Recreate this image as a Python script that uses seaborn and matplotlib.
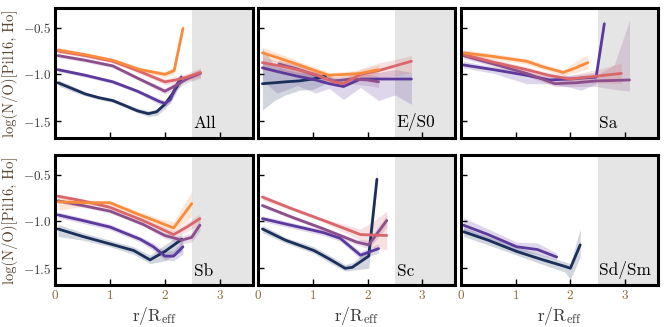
import matplotlib
matplotlib.use("Agg")
import matplotlib.pyplot as plt
import pandas as pd
import seaborn as sns

# colour per mass bin, low -> high
NAVY = "#1b2f5b"
PURPLE = "#5b3a9c"
MAUVE = "#8d4f8c"
CORAL = "#d9666b"
ORANGE = "#fb8b3c"

PANEL_NAMES = ["All", "E/S0", "Sa", "Sb", "Sc", "Sd/Sm"]
X_TICKS = [0, 1, 2, 3]
Y_TICKS = [-1.5, -1.0, -0.5]

# each series: (r/Reff, log N/O, band low, band high)
ALL_NAVY = [(0.05, -1.09, -1.12, -1.06), (0.3, -1.15, -1.18, -1.12), (0.55, -1.21, -1.23, -1.19),
            (0.8, -1.25, -1.27, -1.23), (1.05, -1.28, -1.30, -1.26), (1.3, -1.34, -1.36, -1.32),
            (1.5, -1.39, -1.41, -1.36), (1.7, -1.42, -1.45, -1.39), (1.85, -1.40, -1.44, -1.37),
            (2.0, -1.32, -1.37, -1.28), (2.15, -1.20, -1.25, -1.15), (2.3, -1.05, -1.10, -1.01)]
ALL_PURPLE = [(0.05, -0.95, -0.97, -0.93), (0.55, -1.01, -1.03, -0.99), (1.05, -1.08, -1.10, -1.06),
              (1.5, -1.18, -1.20, -1.16), (1.9, -1.29, -1.32, -1.26), (2.0, -1.31, -1.34, -1.28),
              (2.1, -1.27, -1.31, -1.23), (2.2, -1.13, -1.18, -1.08), (2.3, -1.03, -1.09, -0.98)]
ALL_MAUVE = [(0.05, -0.80, -0.82, -0.78), (0.55, -0.85, -0.87, -0.83), (1.05, -0.91, -0.93, -0.89),
             (1.5, -1.04, -1.06, -1.02), (2.0, -1.18, -1.21, -1.15), (2.2, -1.12, -1.16, -1.08),
             (2.4, -1.05, -1.09, -1.01), (2.65, -0.99, -1.04, -0.94)]
ALL_CORAL = [(0.05, -0.75, -0.77, -0.73), (0.55, -0.80, -0.82, -0.78), (1.05, -0.86, -0.88, -0.84),
             (1.5, -0.96, -0.98, -0.94), (2.0, -1.08, -1.11, -1.05), (2.2, -1.06, -1.10, -1.02),
             (2.4, -1.03, -1.07, -0.99), (2.65, -0.98, -1.03, -0.93)]
ALL_ORANGE = [(0.05, -0.74, -0.77, -0.71), (0.55, -0.79, -0.81, -0.77), (1.05, -0.85, -0.87, -0.83),
              (1.55, -0.95, -0.97, -0.93), (2.0, -1.00, -1.03, -0.97), (2.17, -0.96, -1.00, -0.92),
              (2.33, -0.51, -0.56, -0.46)]

ES0_NAVY = [(0.08, -1.10, -1.38, -0.72), (0.3, -1.09, -1.28, -0.90), (0.5, -1.08, -1.22, -0.95),
            (0.75, -1.07, -1.17, -0.98), (1.0, -1.05, -1.16, -0.99), (1.23, -1.02, -1.10, -0.98)]
ES0_PURPLE = [(0.08, -0.93, -1.07, -0.86), (0.35, -0.97, -1.20, -0.92), (0.72, -1.02, -1.12, -0.96),
              (1.05, -1.06, -1.20, -1.00), (1.3, -1.10, -1.15, -1.02), (1.56, -1.13, -1.27, -1.06),
              (1.87, -1.05, -1.14, -0.98), (2.2, -1.05, -1.28, -0.98), (2.5, -1.05, -1.22, -0.95),
              (2.8, -1.05, -1.32, -0.98)]
ES0_MAUVE = [(0.38, -0.89, -0.95, -0.84), (0.7, -0.94, -0.99, -0.89), (1.0, -1.00, -1.05, -0.95),
             (1.38, -1.07, -1.12, -1.03), (1.7, -1.05, -1.10, -1.00), (2.0, -1.06, -1.12, -1.00),
             (2.2, -1.08, -1.14, -1.02)]
ES0_CORAL = [(0.08, -0.875, -0.95, -0.82), (0.4, -0.91, -0.97, -0.86), (0.72, -0.95, -1.00, -0.90),
             (1.05, -1.00, -1.05, -0.95), (1.38, -1.08, -1.12, -1.04), (1.56, -1.10, -1.14, -1.05),
             (1.87, -1.00, -1.06, -0.94), (2.2, -0.96, -1.04, -0.88), (2.5, -0.91, -1.02, -0.84),
             (2.8, -0.86, -0.98, -0.80)]
ES0_ORANGE = [(0.08, -0.77, -0.83, -0.71), (0.4, -0.83, -0.88, -0.78), (0.8, -0.91, -0.95, -0.87),
              (1.29, -1.01, -1.04, -0.98), (1.6, -1.00, -1.03, -0.97), (1.87, -0.99, -1.03, -0.95),
              (2.2, -0.95, -1.00, -0.90)]

SA_PURPLE = [(0.05, -0.90, -0.93, -0.86), (0.6, -0.95, -0.99, -0.92), (1.2, -1.01, -1.10, -0.98),
             (1.62, -1.06, -1.10, -1.02), (2.0, -1.05, -1.14, -1.01), (2.2, -1.04, -1.17, -1.00),
             (2.47, -1.03, -1.10, -0.98), (2.62, -0.46, -0.52, -0.41)]
SA_MAUVE = [(0.05, -0.80, -0.83, -0.76), (0.6, -0.89, -0.92, -0.86), (1.2, -0.99, -1.02, -0.96),
            (1.72, -1.10, -1.13, -1.07), (2.1, -1.09, -1.13, -1.05), (2.47, -1.07, -1.13, -1.01),
            (2.8, -1.065, -1.16, -0.90), (3.08, -1.06, -1.18, -0.42)]
SA_CORAL = [(0.05, -0.79, -0.82, -0.76), (0.6, -0.87, -0.90, -0.84), (1.2, -0.95, -0.98, -0.92),
            (1.6, -1.01, -1.04, -0.98), (1.99, -1.05, -1.09, -1.01), (2.47, -1.02, -1.09, -0.95),
            (2.93, -0.99, -1.10, -0.88)]
SA_ORANGE = [(0.05, -0.77, -0.80, -0.74), (0.6, -0.81, -0.84, -0.78), (1.2, -0.86, -0.89, -0.83),
             (1.5, -0.92, -0.95, -0.89), (1.87, -0.98, -1.01, -0.95), (2.1, -0.93, -0.98, -0.86),
             (2.32, -0.875, -0.94, -0.79)]

SB_NAVY = [(0.05, -1.08, -1.16, -1.03), (0.5, -1.16, -1.20, -1.12), (1.0, -1.24, -1.27, -1.20),
           (1.43, -1.31, -1.35, -1.27), (1.73, -1.41, -1.45, -1.36), (2.0, -1.32, -1.42, -1.25),
           (2.31, -1.19, -1.32, -1.13)]
SB_PURPLE = [(0.05, -0.93, -0.96, -0.90), (0.5, -0.99, -1.02, -0.96), (1.0, -1.06, -1.09, -1.03),
             (1.55, -1.19, -1.22, -1.16), (1.79, -1.27, -1.31, -1.23), (2.0, -1.37, -1.41, -1.32),
             (2.16, -1.37, -1.42, -1.31), (2.33, -1.27, -1.35, -1.20)]
SB_MAUVE = [(0.05, -0.78, -0.80, -0.76), (0.5, -0.83, -0.85, -0.81), (1.0, -0.89, -0.91, -0.87),
            (1.6, -1.03, -1.05, -1.01), (2.0, -1.15, -1.18, -1.12), (2.31, -1.20, -1.24, -1.16),
            (2.49, -1.17, -1.22, -1.12), (2.64, -1.04, -1.10, -0.98)]
SB_CORAL = [(0.05, -0.73, -0.75, -0.71), (0.5, -0.78, -0.80, -0.76), (1.0, -0.85, -0.87, -0.83),
            (1.6, -0.99, -1.01, -0.97), (2.16, -1.14, -1.17, -1.10), (2.4, -1.06, -1.11, -1.01),
            (2.64, -0.97, -1.03, -0.92)]
SB_ORANGE = [(0.05, -0.79, -0.88, -0.74), (0.5, -0.80, -0.84, -0.77), (1.0, -0.80, -0.83, -0.78),
             (1.5, -0.92, -0.95, -0.89), (1.9, -1.01, -1.05, -0.97), (2.16, -1.07, -1.11, -1.00),
             (2.49, -0.81, -0.95, -0.68)]

SC_NAVY = [(0.08, -1.08, -1.12, -1.04), (0.5, -1.20, -1.23, -1.17), (1.02, -1.31, -1.34, -1.27),
           (1.3, -1.40, -1.44, -1.36), (1.59, -1.50, -1.53, -1.46), (1.72, -1.49, -1.52, -1.44),
           (2.02, -1.37, -1.50, -1.30), (2.17, -0.55, -0.62, -0.44)]
SC_PURPLE = [(0.08, -0.97, -1.00, -0.94), (0.6, -1.04, -1.07, -1.01), (1.2, -1.12, -1.15, -1.09),
             (1.5, -1.18, -1.21, -1.15), (1.87, -1.36, -1.40, -1.32), (2.2, -1.29, -1.34, -1.24)]
SC_MAUVE = [(0.08, -0.83, -0.85, -0.81), (0.6, -0.95, -0.97, -0.93), (1.2, -1.08, -1.10, -1.06),
            (1.8, -1.22, -1.25, -1.19), (2.02, -1.25, -1.29, -1.20), (2.35, -0.99, -1.06, -0.93)]
SC_CORAL = [(0.08, -0.74, -0.77, -0.71), (0.6, -0.86, -0.88, -0.84), (1.2, -0.99, -1.01, -0.97),
            (1.87, -1.14, -1.20, -1.08), (2.1, -1.145, -1.28, -1.00), (2.35, -1.15, -1.30, -0.89)]

SD_NAVY = [(0.05, -1.11, -1.16, -1.06), (0.5, -1.20, -1.25, -1.16), (1.02, -1.32, -1.36, -1.27),
           (1.5, -1.41, -1.46, -1.36), (1.9, -1.48, -1.54, -1.43), (2.0, -1.50, -1.62, -1.45),
           (2.18, -1.25, -1.38, -1.08)]
SD_PURPLE = [(0.05, -1.04, -1.10, -0.96), (0.5, -1.14, -1.19, -1.08), (1.02, -1.27, -1.31, -1.22),
             (1.4, -1.30, -1.35, -1.23), (1.75, -1.38, -1.41, -1.34)]

PANEL_SERIES = [
    [(ALL_NAVY, NAVY), (ALL_PURPLE, PURPLE), (ALL_MAUVE, MAUVE), (ALL_CORAL, CORAL), (ALL_ORANGE, ORANGE)],
    [(ES0_NAVY, NAVY), (ES0_PURPLE, PURPLE), (ES0_MAUVE, MAUVE), (ES0_CORAL, CORAL), (ES0_ORANGE, ORANGE)],
    [(SA_PURPLE, PURPLE), (SA_MAUVE, MAUVE), (SA_CORAL, CORAL), (SA_ORANGE, ORANGE)],
    [(SB_NAVY, NAVY), (SB_PURPLE, PURPLE), (SB_MAUVE, MAUVE), (SB_CORAL, CORAL), (SB_ORANGE, ORANGE)],
    [(SC_NAVY, NAVY), (SC_PURPLE, PURPLE), (SC_MAUVE, MAUVE), (SC_CORAL, CORAL)],
    [(SD_NAVY, NAVY), (SD_PURPLE, PURPLE)],
]


def main() -> None:
    sns.set_style("ticks")
    plt.rcParams["font.family"] = ["cmr10", "DejaVu Serif"]
    plt.rcParams["mathtext.fontset"] = "cm"
    plt.rcParams["axes.formatter.use_mathtext"] = True
    plt.rcParams["axes.unicode_minus"] = True

    fig, axes = plt.subplots(2, 3, figsize=(6.66, 3.27), dpi=100, sharex=True, sharey=True)
    fig.subplots_adjust(left=0.083, right=0.988, top=0.976, bottom=0.128, wspace=0.028, hspace=0.13)

    for ax, name, series in zip(axes.flat, PANEL_NAMES, PANEL_SERIES):
        ax.axvspan(2.5, 3.7, color="#e5e5e5", zorder=0, lw=0)
        for rows, color in series:
            df = pd.DataFrame(rows, columns=["r", "no", "lo", "hi"])
            ax.fill_between(df["r"], df["lo"], df["hi"], color=color, alpha=0.2, lw=0)
            sns.lineplot(data=df, x="r", y="no", color=color, lw=2.0, ax=ax,
                         estimator=None, sort=False)
        ax.text(2.53, -1.61, name, fontsize=12.5, color="black", va="bottom", ha="left")
        ax.set_xlim(0, 3.6)
        ax.set_ylim(-1.68, -0.29)
        ax.set_xticks(X_TICKS)
        ax.set_yticks(Y_TICKS)
        ax.tick_params(direction="in", length=4, width=1, labelsize=9.5, pad=3,
                       colors="black", labelcolor="#3a3a3a")
        ax.tick_params(axis="x", labelcolor="#8a6a3a")
        for spine in ax.spines.values():
            spine.set_linewidth(2.2)
            spine.set_color("black")
        ax.set_xlabel("")
        ax.set_ylabel("")

    for ax in axes[:, 0]:
        ax.set_ylabel("log(N/O)[Pil16, Ho]", fontsize=10.5, color="#5a4530", labelpad=3)
    for ax in axes[1, :]:
        ax.set_xlabel(r"r/R$_{\rm eff}$", fontsize=12.5, color="#3a3a3a", labelpad=2)

    fig.savefig("out.png", dpi=100)
    plt.close(fig)


if __name__ == "__main__":
    main()
